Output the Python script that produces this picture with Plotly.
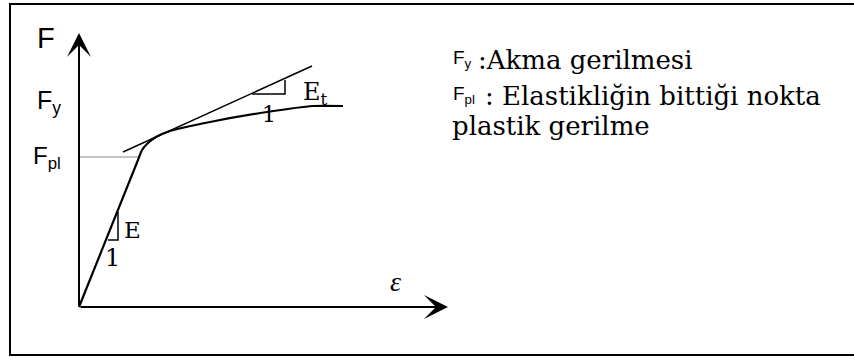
import plotly.graph_objects as go

# ---- data (strain in arbitrary units, stress in arbitrary units) ----
strain = [0, 59, 63, 69, 77, 91, 131, 188, 234, 264]
stress = [0, 147, 157, 164, 170, 176, 185, 195, 201, 201]

tangent_strain = [44, 233]
tangent_stress = [155, 241]

et_tri_strain = [173, 206, 206]
et_tri_stress = [213, 213, 227]

e_tri_strain = [29, 39, 39]
e_tri_stress = [67, 67, 95]

fpl_strain = [0, 60]
fpl_stress = [150, 150]

axis_strain_max = 369
axis_stress_max = 274

legend_symbols = ["F<sub>y</sub>", "F<sub>pl</sub>", ""]
legend_texts = [":Akma gerilmesi", ": Elastikliğin bittiği nokta", "plastik gerilme"]

SERIF = "DejaVu Serif"
SANS = "Liberation Sans, Arial"

fig = go.Figure()

# proportional-limit helper line
fig.add_trace(go.Scatter(x=fpl_strain, y=fpl_stress, mode="lines",
                         line=dict(color="#888888", width=1), hoverinfo="skip"))
# tangent line
fig.add_trace(go.Scatter(x=tangent_strain, y=tangent_stress, mode="lines",
                         line=dict(color="black", width=1.5), hoverinfo="skip"))
# Et triangle
fig.add_trace(go.Scatter(x=et_tri_strain, y=et_tri_stress, mode="lines",
                         line=dict(color="black", width=1.5), hoverinfo="skip"))
# E triangle
fig.add_trace(go.Scatter(x=e_tri_strain, y=e_tri_stress, mode="lines",
                         line=dict(color="black", width=1.5), hoverinfo="skip"))
# stress-strain curve
fig.add_trace(go.Scatter(x=strain, y=stress, mode="lines",
                         line=dict(color="black", width=2.2, shape="spline", smoothing=0.6),
                         hoverinfo="skip"))

# axes with arrow heads
fig.add_annotation(x=0, y=axis_stress_max, ax=0, ay=0, xref="x", yref="y",
                   axref="x", ayref="y", text="", showarrow=True,
                   arrowhead=3, arrowsize=2, arrowwidth=2, arrowcolor="black")
fig.add_annotation(x=axis_strain_max, y=0, ax=0, ay=0, xref="x", yref="y",
                   axref="x", ayref="y", text="", showarrow=True,
                   arrowhead=3, arrowsize=2, arrowwidth=2, arrowcolor="black")

def label(x, y, text, size, family, xanchor="center", color="black"):
    fig.add_annotation(x=x, y=y, xref="x", yref="y", text=text, showarrow=False,
                       xanchor=xanchor, yanchor="middle",
                       font=dict(family=family, size=size, color=color))

# axis / level labels (sans)
label(-33, 269, "F", 29, SANS)
label(-16, 205, "F<sub>y</sub>", 25, SANS, xanchor="right")
label(-16, 150, "F<sub>pl</sub>", 24, SANS, xanchor="right")
label(316, 26, "<i>ε</i>", 28, "Liberation Serif")

# slope labels (serif)
label(53, 77, "E", 23, SERIF, xanchor="center")
label(33, 49, "1", 24, SERIF)
label(222, 214, "E<sub>t</sub>", 24, SERIF, xanchor="left")
label(190, 193, "1", 22, SERIF)

# explanation text on the right
ys = [247, 211, 181]
sym_x = 372
text_x = [397, 404, 371]
for i in range(3):
    if legend_symbols[i]:
        label(sym_x, ys[i] + 1, legend_symbols[i], 19, SANS, xanchor="left")
    label(text_x[i], ys[i], legend_texts[i], 26, SERIF, xanchor="left")

# outer frame (right edge lies outside the picture)
fig.add_shape(type="rect", xref="paper", yref="paper",
              x0=10 / 854, x1=1.05, y0=1 - 355 / 359, y1=1 - 4 / 359,
              line=dict(color="black", width=2))

fig.update_layout(
    width=854, height=359,
    margin=dict(l=0, r=0, t=0, b=0),
    paper_bgcolor="white", plot_bgcolor="white",
    showlegend=False,
    xaxis=dict(range=[-79, 775], visible=False, fixedrange=True),
    yaxis=dict(range=[-52, 307], visible=False, fixedrange=True),
)

fig.write_html("out.html",
               config={"displayModeBar": False, "staticPlot": True},
               post_script="document.body.style.margin='0';document.body.style.overflow='hidden';")
